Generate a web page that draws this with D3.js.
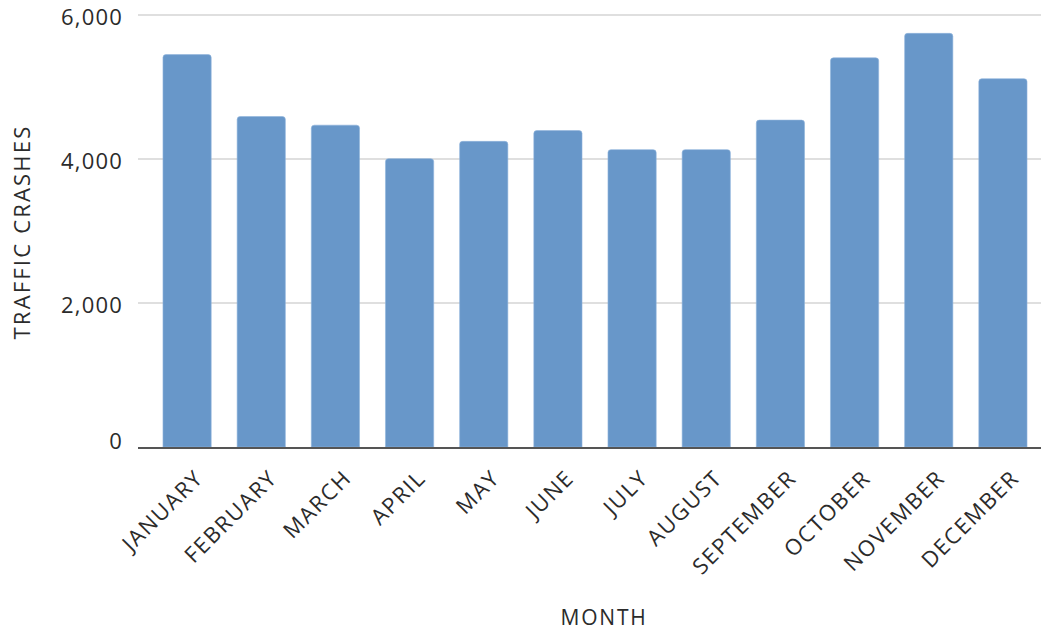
<!DOCTYPE html>
<html>
<head>
<meta charset="utf-8">
<script src="https://cdn.jsdelivr.net/npm/d3@7"></script>
<style>
  html, body { margin: 0; padding: 0; background: #fff; }
  svg { display: block; }
  text { font-family: "Open Sans", Lato, sans-serif; fill: #2b2b2b; }
</style>
</head>
<body>
<svg id="chart" width="1041" height="632"></svg>
<script>
const months = ["JANUARY","FEBRUARY","MARCH","APRIL","MAY","JUNE","JULY","AUGUST","SEPTEMBER","OCTOBER","NOVEMBER","DECEMBER"];
const crashes = [5450, 4590, 4470, 4005, 4245, 4395, 4130, 4130, 4540, 5405, 5745, 5115];
const yTicks = [0, 2000, 4000, 6000];
const xTitle = "MONTH";
const yTitle = "TRAFFIC CRASHES";

const svg = d3.select("#chart");
const plotLeft = 138, plotRight = 1040, plotTop = 15, plotBottom = 447;

const x = d3.scaleBand().domain(months).range([150, plotRight]).paddingInner(0.35).paddingOuter(0.175);
const y = d3.scaleLinear().domain([0, 6000]).range([plotBottom, plotTop]);

// gridlines
svg.append("g").selectAll("line").data(yTicks.filter(d => d > 0)).join("line")
  .attr("x1", plotLeft).attr("x2", plotRight + 1)
  .attr("y1", d => y(d)).attr("y2", d => y(d))
  .attr("stroke", "#d4d4d4").attr("stroke-width", 1.5);

// y tick labels
svg.append("g").selectAll("text").data(yTicks).join("text")
  .attr("x", 123).attr("y", d => y(d) - (d === 0 ? 6 : -2))
  .attr("dy", "0.35em").attr("text-anchor", "end")
  .style("font-size", "22px").style("letter-spacing", "1.2px")
  .text(d => d3.format(",")(d));

// bars with rounded top corners
const r = 3;
svg.append("g").selectAll("path").data(months).join("path")
  .attr("d", (m, i) => {
    const x0 = x(m), w = x.bandwidth(), y0 = y(crashes[i]), yb = y(0);
    return `M${x0},${yb}V${y0 + r}Q${x0},${y0} ${x0 + r},${y0}H${x0 + w - r}Q${x0 + w},${y0} ${x0 + w},${y0 + r}V${yb}Z`;
  })
  .attr("fill", "#6897c9")
  .attr("stroke", "#8fb3db").attr("stroke-width", 0.6);

// x axis line
svg.append("line").attr("x1", plotLeft).attr("x2", plotRight + 1)
  .attr("y1", plotBottom + 1).attr("y2", plotBottom + 1)
  .attr("stroke", "#555").attr("stroke-width", 2);

// x tick labels
svg.append("g").selectAll("text").data(months).join("text")
  .attr("transform", m => `translate(${x(m) + x.bandwidth() / 2 + 12},${plotBottom + 27}) rotate(-45)`)
  .attr("text-anchor", "end")
  .attr("dy", "0.35em")
  .style("font-size", "22px").style("letter-spacing", "1.6px")
  .text(m => m);

// axis titles
svg.append("text").attr("x", 604).attr("y", 618).attr("dy", "0.35em")
  .attr("text-anchor", "middle").style("font-size", "21px").style("letter-spacing", "1.8px").text(xTitle);
svg.append("text").attr("transform", "translate(22,232) rotate(-90)").attr("dy", "0.35em")
  .attr("text-anchor", "middle").style("font-size", "22px").style("letter-spacing", "2.2px").text(yTitle);
</script>
</body>
</html>
